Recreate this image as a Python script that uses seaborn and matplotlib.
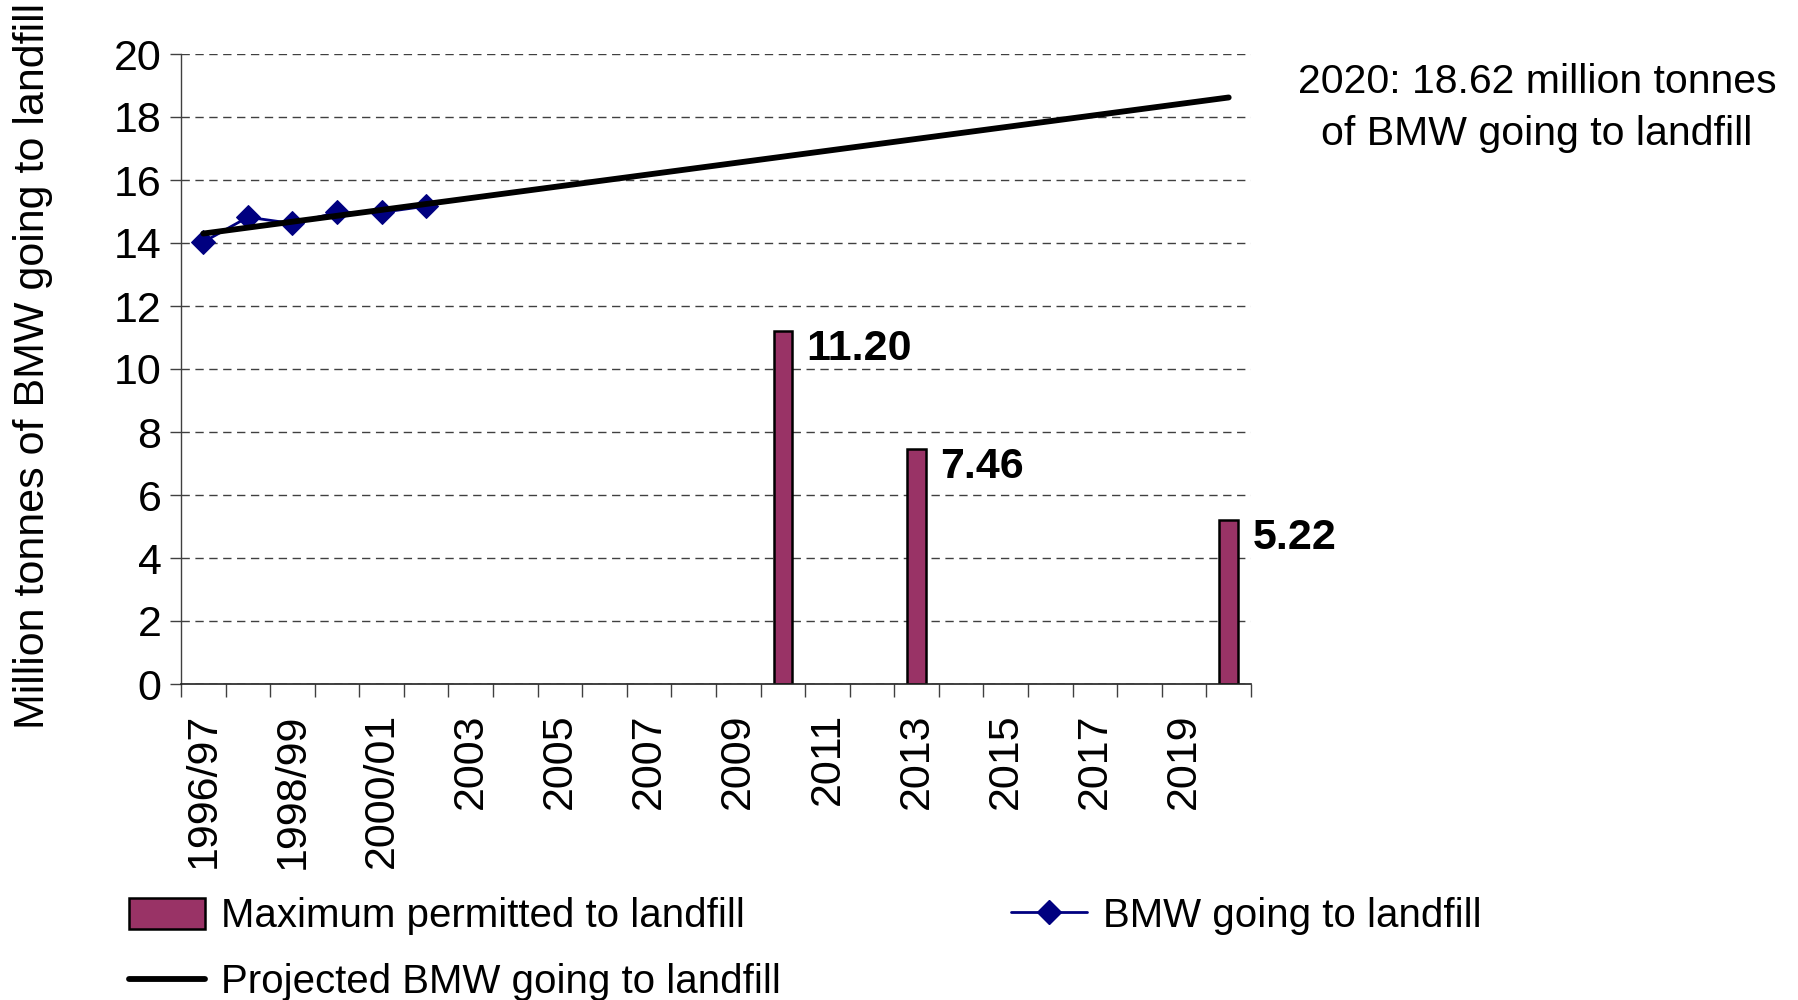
import matplotlib
matplotlib.use("Agg")
import matplotlib.pyplot as plt
import seaborn as sns
import pandas as pd
from matplotlib.patches import Patch
from matplotlib.lines import Line2D

# categories on the x axis (Excel-style category axis)
years = ["1996/97", "1997/98", "1998/99", "1999/00", "2000/01", "2001/02",
         "2003", "2004", "2005", "2006", "2007", "2008", "2009", "2010",
         "2011", "2012", "2013", "2014", "2015", "2016", "2017", "2018",
         "2019", "2020"]

# maximum permitted to landfill (million tonnes)
target_years = ["2010", "2013", "2020"]
target_values = [11.20, 7.46, 5.22]

# BMW going to landfill (actual)
actual_years = ["1996/97", "1997/98", "1998/99", "1999/00", "2000/01", "2001/02"]
actual_values = [14.03, 14.82, 14.62, 14.97, 14.97, 15.17]

# projected BMW going to landfill
proj_years = ["1996/97", "2020"]
proj_values = [14.30, 18.62]

BAR_COLOR = "#993366"
LINE_COLOR = "#000080"
FS = 31

sns.set_style("white")
plt.rcParams["font.family"] = ["Liberation Sans", "DejaVu Sans"]
plt.rcParams["text.color"] = "black"
plt.rcParams["axes.labelcolor"] = "black"

fig = plt.figure(figsize=(17.99, 10), dpi=100)
ax = fig.add_axes([181 / 1799, 1 - 684 / 1000, 1070 / 1799, 630 / 1000])

bars = pd.DataFrame({"year": target_years, "value": target_values})
sns.barplot(data=bars, x="year", y="value", order=years, color=BAR_COLOR,
            saturation=1, width=0.42, edgecolor="black", linewidth=1.8, ax=ax)

pos = {y: i for i, y in enumerate(years)}
actual = pd.DataFrame({"x": [pos[y] for y in actual_years], "value": actual_values})
proj = pd.DataFrame({"x": [pos[y] for y in proj_years], "value": proj_values})

sns.lineplot(data=actual, x="x", y="value", color=LINE_COLOR, linewidth=2,
             marker="D", markersize=12, markeredgecolor=LINE_COLOR, ax=ax)
sns.lineplot(data=proj, x="x", y="value", color="black", linewidth=4.2, ax=ax)

# value labels next to the bars
for y, v in zip(target_years, target_values):
    ax.annotate(f"{v:.2f}", (pos[y], v), xytext=(17, -13), textcoords="offset points",
                ha="left", va="center", fontsize=FS, fontweight="bold")

ax.set_xlim(-0.5, len(years) - 0.5)
ax.set_ylim(0, 20)
ax.set_yticks(range(0, 21, 2))
ax.tick_params(axis="y", labelsize=FS, length=8, width=1, color="#404040",
               labelcolor="black", left=True, pad=6)

# tick marks between categories, labels on every other category
ax.set_xticks([i - 0.5 for i in range(len(years) + 1)])
ax.set_xticklabels([])
ax.set_xticks(range(0, len(years), 2), minor=True)
ax.set_xticklabels(years[::2], minor=True, rotation=90, va="top", ha="center")
ax.tick_params(axis="x", which="major", length=9, width=1, color="#404040",
               bottom=True, direction="out")
ax.tick_params(axis="x", which="minor", length=0, labelsize=FS, pad=21,
               labelcolor="black")

ax.grid(axis="y", color="#404040", linestyle=(0, (6, 4)), linewidth=1)
ax.set_axisbelow(True)
for s in ["top", "right"]:
    ax.spines[s].set_visible(False)
ax.spines["left"].set_color("#404040")
ax.spines["bottom"].set_color("#202020")
ax.spines["left"].set_linewidth(1)
ax.spines["bottom"].set_linewidth(1.2)

ax.set_xlabel("")
ax.set_ylabel("Million tonnes of BMW going to landfill", fontsize=FS)
ax.yaxis.set_label_coords(-0.12, 0.505)

fig.text(1537 / 1799, 1 - 108 / 1000,
         "2020: 18.62 million tonnes\nof BMW going to landfill",
         ha="center", va="center", fontsize=29.5, linespacing=1.47)

handles = [
    Patch(facecolor=BAR_COLOR, edgecolor="black", linewidth=1.8),
    Line2D([], [], color="black", linewidth=4.2),
    Line2D([], [], color=LINE_COLOR, linewidth=2, marker="D", markersize=12),
]
labels = ["Maximum permitted to landfill", "Projected BMW going to landfill",
          "BMW going to landfill"]
fig.legend(handles, labels, ncol=2, loc="upper left",
           bbox_to_anchor=(109 / 1799, 1 - 877 / 1000), frameon=False,
           fontsize=29, handlelength=1.89, handleheight=0.8, handletextpad=0.4,
           columnspacing=5.7, labelspacing=0.7, borderpad=0)

fig.savefig("out.png", dpi=100)
